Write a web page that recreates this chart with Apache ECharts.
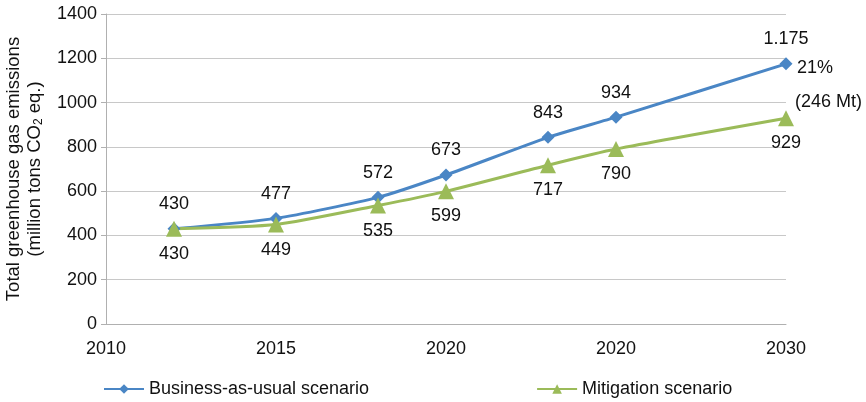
<!DOCTYPE html>
<html><head><meta charset="utf-8">
<script src="https://cdn.jsdelivr.net/npm/echarts@6/dist/echarts.min.js"></script>
<style>html,body{margin:0;padding:0;background:#fff}#c{width:866px;height:402px}</style>
</head><body><div id="c"></div>
<script>
const years = [2012, 2015, 2018, 2020, 2023, 2025, 2030];
const businessAsUsual = [430, 477, 572, 673, 843, 934, 1175];
const businessLabels = ['430', '477', '572', '673', '843', '934', '1.175'];
const mitigation = [430, 449, 535, 599, 717, 790, 929];
const mitigationLabels = ['430', '449', '535', '599', '717', '790', '929'];
const xTickLabels = ['2010', '2015', '2020', '2020', '2030'];
const yTicks = [0, 200, 400, 600, 800, 1000, 1200, 1400];
const annotations = ['21%', '(246 Mt)'];

const FONT = 'Liberation Sans, Arial, sans-serif';
const chart = echarts.init(document.getElementById('c'));
chart.setOption({
  animation: false,
  textStyle: { fontFamily: FONT },
  grid: { left: 106, right: 80, top: 14, bottom: 78, containLabel: false, outerBoundsMode: 'none' },
  xAxis: {
    type: 'value', min: 2010, max: 2030, interval: 5,
    axisLine: { lineStyle: { color: '#b0b0b0' } },
    axisTick: { show: false },
    splitLine: { show: false },
    axisLabel: { color: '#111', fontSize: 18, margin: 16,
      formatter: v => xTickLabels[Math.round((v - 2010) / 5)] }
  },
  yAxis: {
    type: 'value', min: yTicks[0], max: yTicks[yTicks.length - 1], interval: 200,
    axisLine: { show: true, lineStyle: { color: '#b0b0b0' } },
    axisTick: { show: true, length: 5, lineStyle: { color: '#b0b0b0' } },
    splitLine: { lineStyle: { color: '#c8c8c8' } },
    axisLabel: { color: '#111', fontSize: 18, margin: 9, formatter: v => String(v) },
    name: '{a|Total greenhouse gas emissions}\n{a|(million tons CO}{s|2}{a| eq.)}',
    nameLocation: 'middle', nameGap: 61, nameRotate: 90,
    nameTextStyle: { rich: {
      a: { fontSize: 18.5, color: '#111', fontFamily: FONT, lineHeight: 21 },
      s: { fontSize: 12, color: '#111', fontFamily: FONT, verticalAlign: 'bottom', padding: [7, 0, 0, 0], lineHeight: 21 }
    } }
  },
  legend: {
    left: 103, top: 380, padding: 0, itemWidth: 40, itemHeight: 12, itemGap: 167,
    textStyle: { fontSize: 18, color: '#111' }
  },
  series: [
    {
      name: 'Business-as-usual scenario', type: 'line', smooth: 0.2,
      data: years.map((y, i) => [y, businessAsUsual[i]]),
      symbol: 'diamond', symbolSize: 13,
      lineStyle: { width: 3, color: '#4a86c5' }, itemStyle: { color: '#4a86c5' },
      label: { show: true, position: 'top', distance: 9, fontSize: 18, color: '#111',
        formatter: p => businessLabels[p.dataIndex] }
    },
    {
      name: 'Mitigation scenario', type: 'line', smooth: 0.2,
      data: years.map((y, i) => [y, mitigation[i]]),
      symbol: 'triangle', symbolSize: 16,
      lineStyle: { width: 3, color: '#9bbb59' }, itemStyle: { color: '#9bbb59' },
      label: { show: true, position: 'bottom', distance: 8, fontSize: 18, color: '#111',
        formatter: p => mitigationLabels[p.dataIndex] }
    }
  ],
  graphic: [
    { type: 'text', left: 797, top: 59, style: { text: annotations[0], font: '18px ' + FONT, fill: '#111' } },
    { type: 'text', left: 795, top: 93, style: { text: annotations[1], font: '18px ' + FONT, fill: '#111' } }
  ]
});
</script></body></html>
